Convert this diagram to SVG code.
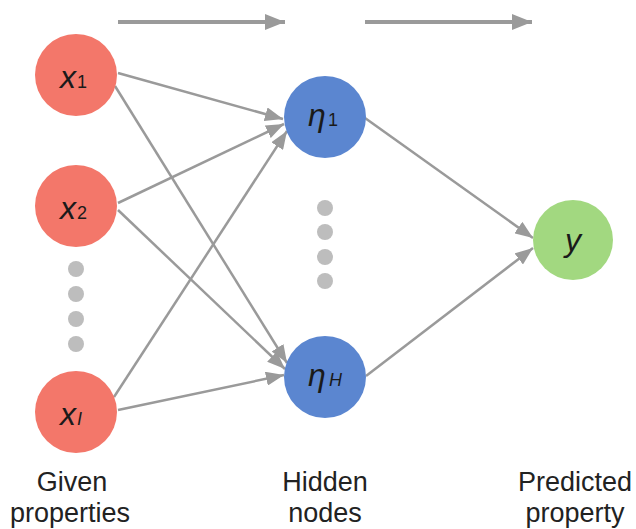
<svg xmlns="http://www.w3.org/2000/svg" width="636" height="529" viewBox="0 0 636 529">
<defs>
<marker id="ah" markerUnits="userSpaceOnUse" markerWidth="20" markerHeight="14" refX="18" refY="7" orient="auto">
<path d="M0,0 L18,7 L0,14 z" fill="#9a9a9a"/>
</marker>
<marker id="ahTop" markerUnits="userSpaceOnUse" markerWidth="22" markerHeight="18" refX="20" refY="8" orient="auto">
<path d="M0,0 L20,8 L0,16 z" fill="#9a9a9a"/>
</marker>
<style>
.edge{stroke:#9a9a9a;stroke-width:2.5;fill:none;marker-end:url(#ah)}
.top{stroke:#9a9a9a;stroke-width:4;fill:none;marker-end:url(#ahTop)}
.in{fill:#F3776A}
.hid{fill:#5B86D0}
.out{fill:#A2D880}
.dot{fill:#BDBDBD}
.lbl{font-family:"Liberation Sans",Arial,sans-serif;font-size:27px;fill:#222;text-anchor:middle}
.sym{font-family:"Liberation Sans",Arial,sans-serif;font-size:32px;font-style:italic;fill:#1a1a1a}
.sub{font-family:"Liberation Sans",Arial,sans-serif;font-size:18px;fill:#1a1a1a}
</style>
</defs>
<rect width="636" height="529" fill="#ffffff"/>
<g id="connectors">
<line class="top" x1="118" y1="22" x2="285" y2="22"/>
<line class="top" x1="365" y1="22" x2="532" y2="22"/>
<line class="edge" x1="118" y1="73" x2="283" y2="119"/>
<line class="edge" x1="115" y1="86" x2="287" y2="363"/>
<line class="edge" x1="118" y1="203" x2="284" y2="124"/>
<line class="edge" x1="118" y1="210" x2="285" y2="369"/>
<line class="edge" x1="114" y1="397" x2="287" y2="131"/>
<line class="edge" x1="118" y1="410" x2="284" y2="375"/>
<line class="edge" x1="365" y1="118" x2="533" y2="238"/>
<line class="edge" x1="366" y1="376" x2="533" y2="248"/>
</g>
<g id="x1"><circle class="in" cx="76" cy="75" r="41"/><text class="sym" x="60" y="88">x</text><text class="sub" x="77" y="88">1</text></g>
<g id="x2"><circle class="in" cx="76" cy="206" r="41"/><text class="sym" x="60" y="219">x</text><text class="sub" x="77" y="219">2</text></g>
<g id="dots-in"><circle class="dot" cx="76" cy="269" r="8"/><circle class="dot" cx="76" cy="294" r="8"/><circle class="dot" cx="76" cy="319" r="8"/><circle class="dot" cx="76" cy="344" r="8"/></g>
<g id="xI"><circle class="in" cx="76" cy="412" r="41"/><text class="sym" x="60" y="425">x</text><text class="sub" x="77" y="425" font-style="italic">I</text></g>
<g id="eta1"><circle class="hid" cx="325" cy="117" r="41"/><text class="sym" x="308" y="126">η</text><text class="sub" x="328" y="126">1</text></g>
<g id="dots-hid"><circle class="dot" cx="325" cy="208" r="8"/><circle class="dot" cx="325" cy="232" r="8"/><circle class="dot" cx="325" cy="257" r="8"/><circle class="dot" cx="325" cy="281" r="8"/></g>
<g id="etaH"><circle class="hid" cx="325" cy="377" r="41"/><text class="sym" x="308" y="386">η</text><text class="sub" x="329" y="386" font-style="italic">H</text></g>
<g id="y"><circle class="out" cx="573" cy="240" r="40"/><text class="sym" x="573" y="251" text-anchor="middle">y</text></g>
<g id="labels">
<text class="lbl" x="72" y="491">Given</text>
<text class="lbl" x="70" y="522">properties</text>
<text class="lbl" x="325" y="491">Hidden</text>
<text class="lbl" x="325" y="522">nodes</text>
<text class="lbl" x="575" y="491">Predicted</text>
<text class="lbl" x="575" y="522">property</text>
</g>
</svg>
